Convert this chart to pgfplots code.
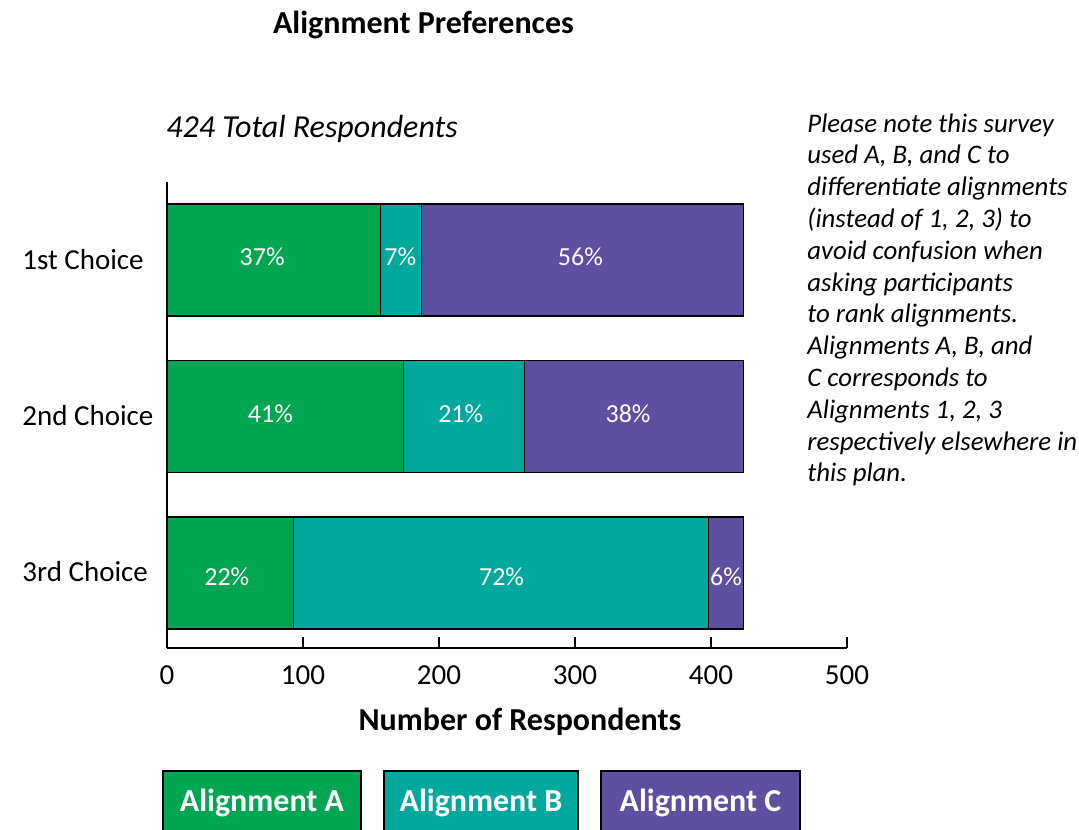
\documentclass[border=0pt]{standalone}
\usepackage{pgfplots}
\pgfplotsset{compat=1.18}
\usepackage{fontspec}
\setmainfont{Carlito}
\definecolor{altA}{RGB}{0,166,81}
\definecolor{altB}{RGB}{0,168,158}
\definecolor{altC}{RGB}{94,79,160}
\tikzset{legtxt/.style={text=white, font=\fontsize{16}{19}\selectfont\bfseries}}
\pgfplotsset{frame/.style={
  at={(83.5pt,-324pt)}, anchor=south west,
  scale only axis, width=340pt, height=233pt,
  xmin=0, xmax=500, ymin=-0.48, ymax=2.5}}

\begin{document}
\begin{tikzpicture}
\useasboundingbox (0,0) rectangle (539.5pt,-414.5pt);

% titles and note (1 px of the reference = 0.5pt)
\node[font=\fontsize{16}{19}\selectfont\bfseries] at (211.75pt,-12.5pt) {Alignment Preferences};
\node[font=\fontsize{16}{19}\selectfont\itshape, anchor=west, inner sep=0pt] at (83pt,-64.5pt) {424 Total Respondents};
\node[anchor=north west, align=left, inner sep=0pt,
      font=\fontsize{13.4}{15.9}\selectfont\itshape] at (403.5pt,-56.5pt)
  {Please note this survey\\
   used A, B, and C to\\
   differentiate alignments\\
   (instead of 1, 2, 3) to\\
   avoid confusion when\\
   asking participants\\
   to rank alignments.\\
   Alignments A, B, and\\
   C corresponds to\\
   Alignments 1, 2, 3\\
   respectively elsewhere in\\
   this plan.};

\begin{axis}[
  frame,
  xbar stacked, bar width=0.716,
  axis x line*=bottom, axis y line*=left,
  axis line style={-, line width=1pt},
  xtick={0,100,...,500},
  ytick={0,1,2}, yticklabels={3rd Choice,2nd Choice,1st Choice},
  tick align=inside, major tick length=5.5pt,
  x tick style={line width=1pt, black},
  y tick style={draw=none},
  tick label style={font=\fontsize{14.5}{17}\selectfont},
  xticklabel style={yshift=-5.5pt},
  yticklabel style={anchor=west, inner sep=0pt, xshift=-72.5pt, yshift=0.5pt},
  /pgf/number format/assume math mode=true,
  every axis plot/.append style={draw=black, line width=0.75pt},
]
\addplot[fill=altA] coordinates {(157,2) (174,1) (93,0)};
\addplot[fill=altB] coordinates {(30,2) (89,1) (305,0)};
\addplot[fill=altC] coordinates {(237,2) (161,1) (26,0)};
\end{axis}

% percentage labels at the middle of each segment
\begin{axis}[frame, hide axis]
\addplot[draw=none, mark=none, nodes near coords, point meta=explicit symbolic,
  every node near coord/.style={anchor=center, text=white, font=\fontsize{13}{15}\selectfont}]
  coordinates {(70,2.02) [37\%] (171.5,2.02) [7\%] (304,2.02) [56\%]
               (76,1.02) [41\%] (216,1.02) [21\%] (339,1.02) [38\%]
               (44,-0.025) [22\%] (246,-0.025) [72\%] (411,-0.025) [6\%]};
\end{axis}

\node[font=\fontsize{16}{19}\selectfont\bfseries] at (260pt,-361pt) {Number of Respondents};

% legend boxes, cut off by the lower edge as in the reference
\begin{scope}
\clip (0,0) rectangle (539.5pt,-414.5pt);
\draw[line width=1pt, fill=altA] (81.5pt,-385.5pt) rectangle (180.5pt,-420pt);
\draw[line width=1pt, fill=altB] (192pt,-385.5pt) rectangle (289pt,-420pt);
\draw[line width=1pt, fill=altC] (300.5pt,-385.5pt) rectangle (400pt,-420pt);
\end{scope}
\node[legtxt] at (131pt,-401.5pt) {Alignment A};
\node[legtxt] at (240.5pt,-401.5pt) {Alignment B};
\node[legtxt] at (350.25pt,-401.5pt) {Alignment C};
\end{tikzpicture}
\end{document}
